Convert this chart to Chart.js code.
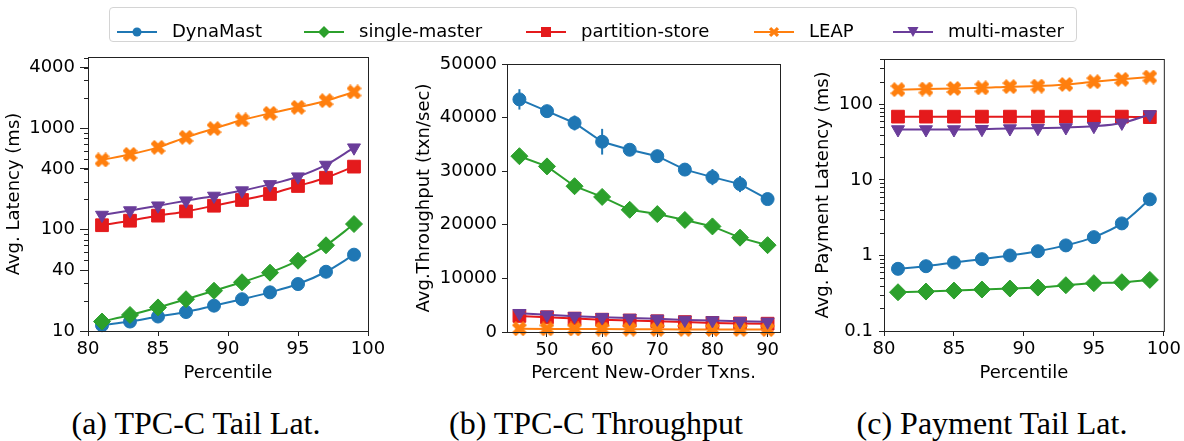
<!DOCTYPE html>
<html>
<head>
<meta charset="utf-8">
<script src="https://cdn.jsdelivr.net/npm/chart.js@4.4.0/dist/chart.umd.min.js"></script>
<style>
  body { margin: 0; background: #fff; width: 1184px; height: 441px; position: relative; overflow: hidden; font-family: "DejaVu Sans", sans-serif; }
  canvas { position: absolute; top: 0; }
  .legend { position: absolute; left: 109px; top: 7px; width: 966px; height: 33px; border: 1px solid #d4d4d4; border-radius: 4px; }
  .legend svg { position: absolute; top: 16px; }
  .legend span { position: absolute; top: 12px; font-size: 18px; line-height: 22px; color: #000; white-space: nowrap; }
  .cap { position: absolute; top: 405px; font-family: "Liberation Serif", serif; font-size: 32px; line-height: 36px; transform: translateX(-50%); white-space: nowrap; color: #000; }
</style>
</head>
<body>
<canvas id="chartA" width="390" height="400" style="left:0px"></canvas>
<canvas id="chartB" width="400" height="400" style="left:390px"></canvas>
<canvas id="chartC" width="394" height="400" style="left:790px"></canvas>
<div class="legend" id="legend"></div>
<div class="cap" style="left:196px">(a) TPC-C Tail Lat.</div>
<div class="cap" style="left:596px">(b) TPC-C Throughput</div>
<div class="cap" style="left:992px">(c) Payment Tail Lat.</div>
<script>
const seriesNames = ['DynaMast', 'single-master', 'partition-store', 'LEAP', 'multi-master'];
const seriesColors = ['#1f77b4', '#2ca02c', '#e41a1c', '#ff7f0e', '#6a3d9a'];

// (a) TPC-C tail latency (ms) per percentile
const pctA = [81, 83, 85, 87, 89, 91, 93, 95, 97, 99];
const latDynaMast = [11.4, 12.4, 13.9, 15.4, 17.8, 20.6, 24.1, 29.1, 38.5, 56.8];
const latSingle = [12.4, 14.4, 17.1, 20.6, 25.0, 30.3, 37.7, 49.5, 70.3, 114];
const latPartition = [111, 123, 138, 152, 173, 197, 226, 271, 327, 421];
const latLeap = [490, 557, 653, 820, 1000, 1217, 1416, 1623, 1888, 2300];
const latMulti = [140, 155, 173, 194, 216, 244, 281, 335, 437, 648];
const tickYA = [10, 40, 100, 400, 1000, 4000];
const tickXA = [80, 85, 90, 95, 100];

// (b) TPC-C throughput (txn/sec) per % new-order
const mixB = [45, 50, 55, 60, 65, 70, 75, 80, 85, 90];
const tputDynaMast = [43400, 41200, 39000, 35500, 34000, 32800, 30300, 28900, 27600, 24800];
const errDynaMast = [1900, 500, 1400, 2400, 500, 1200, 400, 1500, 1500, 400];
const tputSingle = [32800, 30900, 27200, 25200, 22800, 22000, 20900, 19700, 17600, 16200];
const tputPartition = [3000, 2750, 2500, 2300, 2150, 2000, 1850, 1700, 1600, 1550];
const errPartition = [900, 300, 300, 300, 200, 200, 200, 200, 200, 200];
const tputLeap = [600, 580, 560, 540, 520, 500, 480, 470, 460, 450];
const tputMulti = [3500, 3200, 2950, 2750, 2600, 2450, 2250, 2150, 2000, 1900];
const tickYB = [0, 10000, 20000, 30000, 40000, 50000];
const tickXB = [50, 60, 70, 80, 90];

// (c) payment tail latency (ms) per percentile
const pctC = [81, 83, 85, 87, 89, 91, 93, 95, 97, 99];
const payDynaMast = [0.666, 0.721, 0.807, 0.894, 1.0, 1.14, 1.36, 1.75, 2.66, 5.54];
const paySingle = [0.326, 0.333, 0.343, 0.354, 0.365, 0.376, 0.404, 0.43, 0.443, 0.475];
const payPartition = [69, 69, 69, 69, 69, 69, 69, 69, 69, 68];
const payLeap = [157, 160, 163, 166, 172, 175, 184, 200, 215, 231];
const payMulti = [46.6, 46.6, 46.6, 47, 48, 48.5, 49.5, 51.5, 57, 73.6];
const tickYC = [0.1, 1, 10, 100];
const tickXC = [80, 85, 90, 95, 100];

const FONT = 'DejaVu Sans';

// filled "X" marker like matplotlib's 'X'
function xMarker(size, color) {
  const c = document.createElement('canvas');
  c.width = c.height = size;
  const g = c.getContext('2d');
  g.translate(size / 2, size / 2);
  g.rotate(Math.PI / 4);
  const L = size / (Math.SQRT2 * 1.35), w = L * 0.35;
  const pts = [[-w,-L],[w,-L],[w,-w],[L,-w],[L,w],[w,w],[w,L],[-w,L],[-w,w],[-L,w],[-L,-w],[-w,-w]];
  g.beginPath();
  pts.forEach((p, i) => i ? g.lineTo(p[0], p[1]) : g.moveTo(p[0], p[1]));
  g.closePath();
  g.fillStyle = color;
  g.fill();
  return c;
}

const markerStyles = ['circle', 'rectRot', 'rect', xMarker(15, seriesColors[3]), 'triangle'];
const markerRadius = [6.5, 8.5, 9, 7, 7.5];

function makeSet(i, xs, ys, smooth, errs) {
  return {
    label: seriesNames[i],
    data: xs.map((x, k) => ({ x: x, y: ys[k] })),
    errors: errs || null,
    borderColor: seriesColors[i],
    backgroundColor: seriesColors[i],
    borderWidth: 2,
    pointStyle: markerStyles[i],
    pointRadius: markerRadius[i],
    pointHoverRadius: markerRadius[i],
    pointRotation: i === 4 ? 180 : 0,
    pointBorderWidth: 1,
    cubicInterpolationMode: smooth ? 'monotone' : 'default',
    tension: 0,
    order: 4 - i,
    clip: false
  };
}

// box round the plot area
const framePlugin = {
  id: 'frame',
  afterDatasetsDraw(chart) {
    const { ctx, chartArea: a } = chart;
    ctx.save();
    ctx.strokeStyle = '#222';
    ctx.lineWidth = 1;
    ctx.strokeRect(a.left + 0.5, a.top + 0.5, a.right - a.left, a.bottom - a.top);
    ctx.restore();
  }
};

// minor ticks on log y axes
const minorPlugin = {
  id: 'minor',
  afterDraw(chart) {
    const sc = chart.scales.y;
    if (sc.type !== 'logarithmic') return;
    const { ctx, chartArea: a } = chart;
    ctx.save();
    ctx.strokeStyle = '#222';
    ctx.lineWidth = 1;
    for (let d = Math.pow(10, Math.floor(Math.log10(sc.min))); d <= sc.max; d *= 10) {
      for (let m = 2; m <= 9; m++) {
        const v = d * m;
        if (v < sc.min || v > sc.max) continue;
        const y = Math.round(sc.getPixelForValue(v)) + 0.5;
        ctx.beginPath();
        ctx.moveTo(a.left - 4, y);
        ctx.lineTo(a.left, y);
        ctx.stroke();
      }
    }
    ctx.restore();
  }
};

// vertical error bars
const errPlugin = {
  id: 'errbars',
  beforeDatasetsDraw(chart) {
    const { ctx } = chart;
    const xs = chart.scales.x, ys = chart.scales.y;
    chart.data.datasets.forEach(ds => {
      if (!ds.errors) return;
      ctx.save();
      ctx.strokeStyle = ds.borderColor;
      ctx.lineWidth = 2;
      ds.data.forEach((p, k) => {
        const e = ds.errors[k];
        if (!e) return;
        const x = xs.getPixelForValue(p.x);
        ctx.beginPath();
        ctx.moveTo(x, ys.getPixelForValue(p.y - e));
        ctx.lineTo(x, ys.getPixelForValue(p.y + e));
        ctx.stroke();
      });
      ctx.restore();
    });
  }
};

function axisCommon(tl) {
  return {
    grid: { drawOnChartArea: false, drawTicks: true, tickLength: tl, color: '#222' },
    border: { display: true, color: '#222', width: 1 }
  };
}

function makeChart(id, datasets, cfg) {
  return new Chart(document.getElementById(id), {
    type: 'line',
    data: { datasets: datasets },
    options: {
      responsive: false,
      animation: false,
      events: [],
      layout: { padding: cfg.padding },
      plugins: { legend: { display: false }, tooltip: { enabled: false } },
      scales: {
        x: Object.assign(axisCommon(5), {
          type: 'linear',
          min: cfg.xMin, max: cfg.xMax,
          afterBuildTicks: s => { s.ticks = cfg.xTicks.map(v => ({ value: v })); },
          afterFit: s => { s.height = cfg.xHeight; },
          ticks: { color: '#000', font: { family: FONT, size: 18 }, padding: 3, maxRotation: 0, callback: v => String(v) },
          title: { display: true, text: cfg.xTitle, color: '#000', font: { family: FONT, size: 18 }, padding: { top: 0, bottom: 16 } }
        }),
        y: Object.assign(axisCommon(cfg.yTick), {
          type: cfg.yType,
          min: cfg.yMin, max: cfg.yMax,
          afterBuildTicks: s => { s.ticks = cfg.yTicks.map(v => ({ value: v })); },
          afterFit: s => { s.width = cfg.yWidth; },
          ticks: { color: '#000', font: { family: FONT, size: 18 }, padding: cfg.yPad, callback: v => String(v) },
          title: { display: true, text: cfg.yTitle, color: '#000', font: { family: FONT, size: 18 }, padding: { top: cfg.yTitlePad, bottom: 0 } }
        })
      }
    },
    plugins: [errPlugin, framePlugin, minorPlugin]
  });
}

makeChart('chartA', [
  makeSet(0, pctA, latDynaMast, true),
  makeSet(1, pctA, latSingle, true),
  makeSet(2, pctA, latPartition, true),
  makeSet(3, pctA, latLeap, true),
  makeSet(4, pctA, latMulti, true)
], {
  padding: { left: 0, right: 22, top: 57, bottom: 0 },
  xMin: 80, xMax: 100, xTicks: tickXA, xHeight: 69, xTitle: 'Percentile',
  yType: 'logarithmic', yMin: 10, yMax: 5100, yTicks: tickYA, yWidth: 88, yTick: 8, yPad: 5,
  yTitle: 'Avg. Latency (ms)', yTitlePad: 4
});

makeChart('chartB', [
  makeSet(0, mixB, tputDynaMast, false, errDynaMast),
  makeSet(1, mixB, tputSingle, false),
  makeSet(2, mixB, tputPartition, false, errPartition),
  makeSet(3, mixB, tputLeap, false),
  makeSet(4, mixB, tputMulti, false)
], {
  padding: { left: 0, right: 7, top: 64, bottom: 0 },
  xMin: 42.75, xMax: 92.25, xTicks: tickXB, xHeight: 68, xTitle: 'Percent New-Order Txns.',
  yType: 'linear', yMin: 0, yMax: 50000, yTicks: tickYB, yWidth: 117, yTick: 5, yPad: 5,
  yTitle: 'Avg.Throughput (txn/sec)', yTitlePad: 24
});

makeChart('chartC', [
  makeSet(0, pctC, payDynaMast, true),
  makeSet(1, pctC, paySingle, true),
  makeSet(2, pctC, payPartition, true),
  makeSet(3, pctC, payLeap, true),
  makeSet(4, pctC, payMulti, true)
], {
  padding: { left: 0, right: 20, top: 59, bottom: 0 },
  xMin: 80, xMax: 100, xTicks: tickXC, xHeight: 69, xTitle: 'Percentile',
  yType: 'logarithmic', yMin: 0.1, yMax: 400, yTicks: tickYC, yWidth: 94, yTick: 5, yPad: 6,
  yTitle: 'Avg. Payment Latency (ms)', yTitlePad: 23
});

// legend across the top
const legendLineX = [7, 194, 416, 644, 783];
const legendTextX = [62, 249, 471, 699, 838];
function legendMarker(i) {
  const c = seriesColors[i];
  switch (i) {
    case 0: return `<circle cx="20" cy="8" r="4.5" fill="${c}"/>`;
    case 1: return `<polygon points="20,2 26,8 20,14 14,8" fill="${c}"/>`;
    case 2: return `<rect x="15" y="3" width="10" height="10" fill="${c}"/>`;
    case 3: return `<g transform="translate(20 8) rotate(45)"><path d="M-1.6,-5.6 H1.6 V-1.6 H5.6 V1.6 H1.6 V5.6 H-1.6 V1.6 H-5.6 V-1.6 H-1.6 Z" fill="${c}"/></g>`;
    default: return `<polygon points="14.5,3 25.5,3 20,13" fill="${c}"/>`;
  }
}
const legendEl = document.getElementById('legend');
seriesNames.forEach((name, i) => {
  legendEl.insertAdjacentHTML('beforeend',
    `<svg width="40" height="16" style="left:${legendLineX[i]}px"><line x1="0" y1="8" x2="40" y2="8" stroke="${seriesColors[i]}" stroke-width="2"/>${legendMarker(i)}</svg>` +
    `<span style="left:${legendTextX[i]}px">${name}</span>`);
});
</script>
</body>
</html>
